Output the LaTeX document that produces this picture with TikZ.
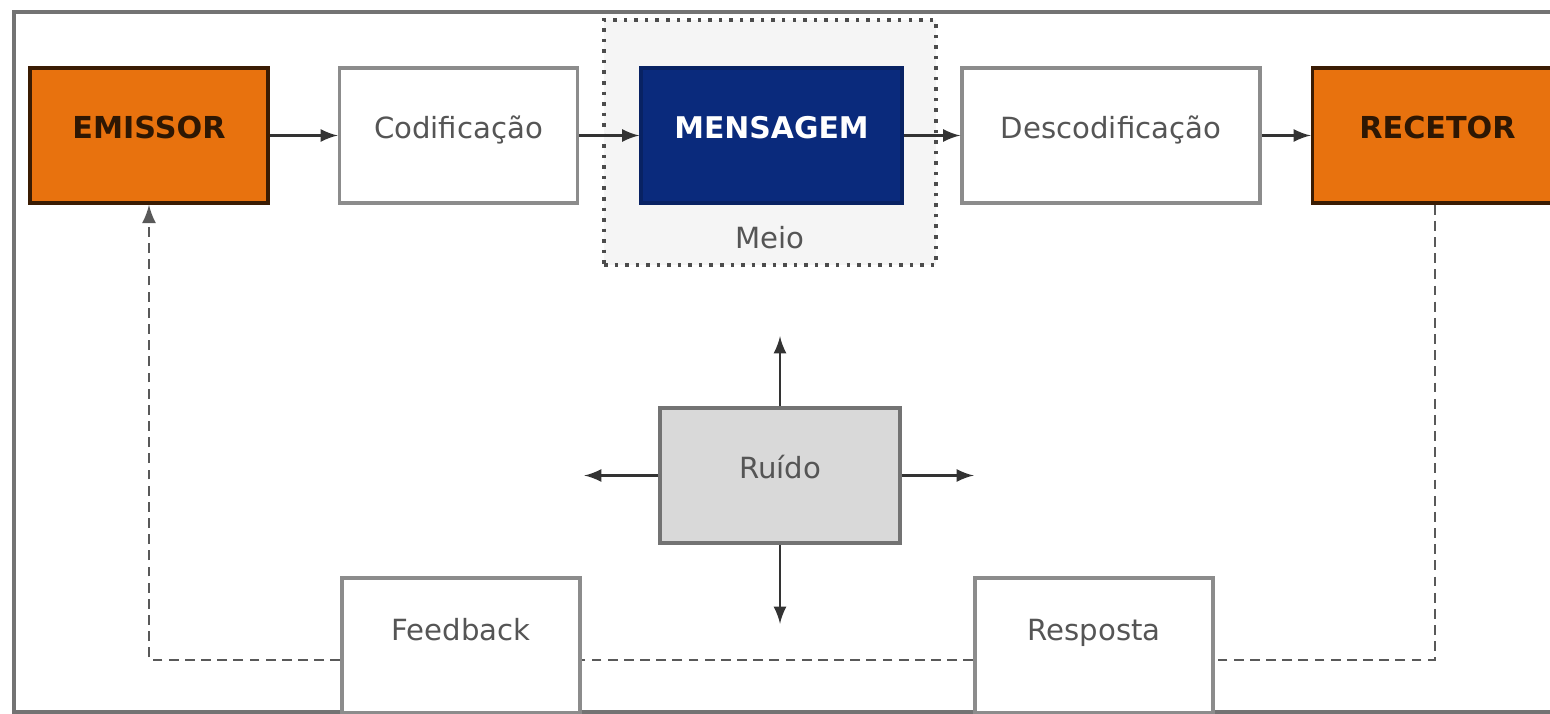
\documentclass[tikz,border=0pt]{standalone}
\usepackage{fontspec}
\setmainfont{DejaVu Sans}
\usetikzlibrary{arrows}
\usetikzlibrary{positioning}
\tikzset{>=latex}
\definecolor{laranja}{HTML}{E8720E}
\definecolor{marinho}{HTML}{0A2A7C}
\definecolor{cinzatexto}{HTML}{555555}

\begin{document}
\begin{tikzpicture}[box/.style={rectangle, draw=black!45, line width=1pt, fill=white, minimum width=2.38cm, minimum height=1.35cm, inner sep=0pt, text=cinzatexto, text depth=0.17cm, font=\fontsize{8.3}{10}\selectfont},
	baixo/.style={box, text depth=0.32cm},
	polo/.style={box, draw=black!75!laranja, fill=laranja, text=black!80!laranja, font=\fontsize{8.6}{10}\selectfont\bfseries},
	fluxo/.style={->, line width=0.7pt, black!80},
	retorno/.style={line width=0.8pt, black!65, dash pattern=on 2.8pt off 1.8pt},
	node distance=3.1cm, on grid]
		\useasboundingbox (0,0) rectangle (15.5,-7.14);
		% moldura
		\draw[black!55, line width=1pt] (15.6,-0.12) -- (0.14,-0.12) -- (0.14,-7.12) -- (15.6,-7.12);
		% meio
		\node[rectangle, draw=black!70, dotted, line width=1pt, fill=black!4, minimum width=3.32cm, minimum height=2.45cm] (meio) at (7.70,-1.425) {};
		\node[text=cinzatexto, font=\fontsize{8.3}{10}\selectfont] (meiolabel) at (7.70,-2.38) {Meio};
		% linha de cima
		\node[polo] (emissor) at (1.49,-1.355) {EMISSOR};
		\node[box] (cod) [right=3.095cm of emissor] {Codificação};
		\node[box, draw=marinho!80!black, fill=marinho, minimum width=2.61cm, text=white, font=\fontsize{8.5}{10}\selectfont\bfseries] (msg) [right=3.13cm of cod] {MENSAGEM};
		\node[box, minimum width=2.98cm] (desc) [right=3.395cm of msg] {Descodificação};
		\node[polo, minimum width=2.5cm] (recetor) [right=3.265cm of desc] {RECETOR};
		\path[fluxo]
			(emissor) edge (cod)
			(cod) edge (msg)
			(msg) edge (desc)
			(desc) edge (recetor);
		% ruido
		\node[box, fill=black!15, draw=black!55, minimum width=2.4cm] (ruido) at (7.80,-4.755) {Ruído};
		\coordinate[above=0.7cm of ruido.north] (r-cima);
		\coordinate[below=0.79cm of ruido.south] (r-baixo);
		\coordinate[left=0.74cm of ruido.west] (r-esq);
		\coordinate[right=0.72cm of ruido.east] (r-dir);
		\draw[fluxo] (ruido.north) -- (r-cima);
		\draw[fluxo] (ruido.south) -- (r-baixo);
		\draw[fluxo] (ruido.west) -- (r-esq);
		\draw[fluxo] (ruido.east) -- (r-dir);
		% feedback
		\node[baixo] (feedback) at (4.61,-6.455) {Feedback};
		\node[baixo] (resposta) at (10.94,-6.455) {Resposta};
		\draw[retorno] (recetor.south -| 14.35,0) |- ([yshift=-1.45mm]resposta.east);
		\draw[retorno] ([yshift=-1.45mm]resposta.west) -- ([yshift=-1.45mm]feedback.east);
		\draw[retorno, ->] ([yshift=-1.45mm]feedback.west) -| (emissor.south);
	\end{tikzpicture}
\end{document}
